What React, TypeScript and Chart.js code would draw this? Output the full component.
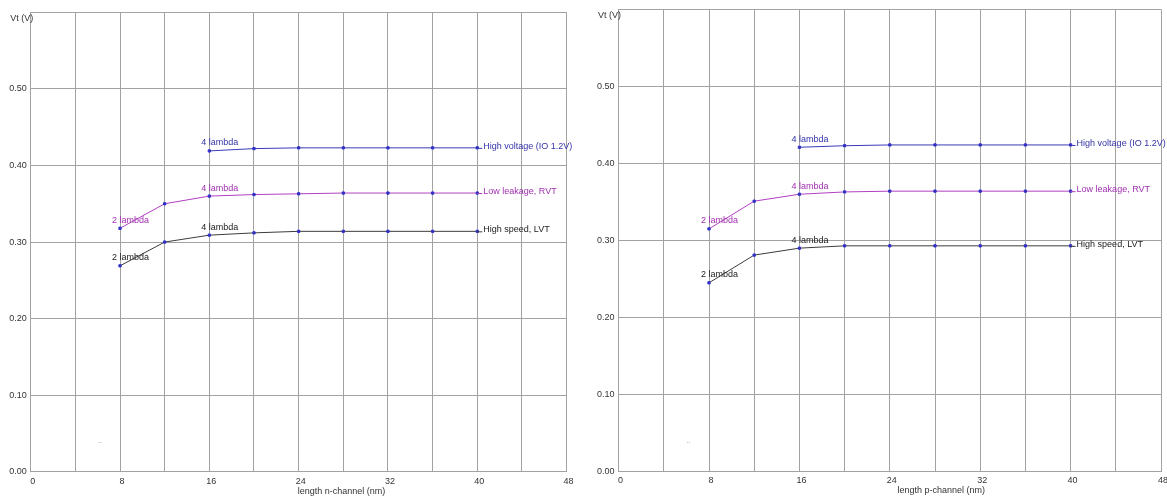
import React, { useEffect, useRef } from "react";
import { Chart, registerables } from "chart.js";
Chart.register(...registerables);

// ---- data ----
const lengths = [8, 12, 16, 20, 24, 28, 32, 36, 40];
const hvLengths = [16, 20, 24, 28, 32, 36, 40];

const nHighVoltage = [0.419, 0.422, 0.423, 0.423, 0.423, 0.423, 0.423];
const nLowLeakage = [0.318, 0.35, 0.36, 0.362, 0.363, 0.364, 0.364, 0.364, 0.364];
const nHighSpeed = [0.269, 0.3, 0.309, 0.312, 0.314, 0.314, 0.314, 0.314, 0.314];

const pHighVoltage = [0.421, 0.423, 0.424, 0.424, 0.424, 0.424, 0.424];
const pLowLeakage = [0.315, 0.351, 0.36, 0.363, 0.364, 0.364, 0.364, 0.364, 0.364];
const pHighSpeed = [0.245, 0.281, 0.29, 0.293, 0.293, 0.293, 0.293, 0.293, 0.293];

const seriesNames = ["High voltage (IO 1.2V)", "Low leakage, RVT", "High speed, LVT"];
const hvPointLabels = [{ i: 0, text: "4 lambda" }];
const rvtPointLabels = [{ i: 0, text: "2 lambda" }, { i: 2, text: "4 lambda" }];
const lvtPointLabels = [{ i: 0, text: "2 lambda" }, { i: 2, text: "4 lambda" }];

const xMin = 0;
const xMax = 48;
const xStep = 4;
const xLabelEvery = 8;
const yMin = 0;
const yMax = 0.6;
const yStep = 0.1;
const yTitle = "Vt (V)";
const nTitle = "length n-channel (nm)";
const pTitle = "length p-channel (nm)";

// ---- styles ----
const FONT = 'Arial, "Liberation Sans", sans-serif';
const GRID = "#a2a2a2";
const hvColor = "#3a3ab8";
const rvtColor = "#b040c0";
const lvtColor = "#3c3c3c";
const hvText = "#3333a8";
const rvtText = "#a030b0";
const lvtText = "#222222";
const markerColor = "#3030c8";

type Panel = {
  left: number;
  width: number;
  padTop: number;
  padRight: number;
  yWidth: number;
  xHeight: number;
  title: string;
  titleFrac: number;
  hv: number[];
  rvt: number[];
  lvt: number[];
};

const panels: Panel[] = [
  { left: 0, width: 590, padTop: 12.3, padRight: 23.4, yWidth: 30.7, xHeight: 25.2, title: nTitle, titleFrac: 0.58, hv: nHighVoltage, rvt: nLowLeakage, lvt: nHighSpeed },
  { left: 590, width: 600, padTop: 7.4, padRight: 29, yWidth: 28.6, xHeight: 25.5, title: pTitle, titleFrac: 0.595, hv: pHighVoltage, rvt: pLowLeakage, lvt: pHighSpeed },
];

const annotPlugin = {
  id: "annot",
  afterDatasetsDraw(chart: any) {
    const ctx = chart.ctx;
    const area = chart.chartArea;
    const opts = chart.options.plugins.annot;
    ctx.save();
    ctx.font = `9px ${FONT}`;
    ctx.textBaseline = "middle";
    chart.data.datasets.forEach((ds: any, di: number) => {
      const meta = chart.getDatasetMeta(di);
      const labels = ds._pointLabels || [];
      ctx.fillStyle = ds._textColor;
      ctx.textAlign = "left";
      labels.forEach((l: any) => {
        const pt = meta.data[l.i];
        ctx.fillText(l.text, pt.x - 8, pt.y - 8);
      });
      const last = meta.data[meta.data.length - 1];
      ctx.strokeStyle = ds.borderColor;
      ctx.lineWidth = 1;
      ctx.beginPath();
      ctx.moveTo(last.x, last.y + 0.5);
      ctx.lineTo(last.x + 5, last.y + 0.5);
      ctx.stroke();
      ctx.fillText(ds.label, last.x + 6, last.y - 1.5);
    });
    // axis titles
    ctx.fillStyle = "#333";
    ctx.textAlign = "right";
    ctx.fillText(opts.yTitle, area.left + 2.5, area.top + 6.5);
    ctx.textAlign = "center";
    ctx.fillText(opts.xTitle, area.left + (area.right - area.left) * opts.titleFrac, area.bottom + 19.5);
    // tiny dots
    ctx.fillStyle = "#888";
    ctx.font = `7px ${FONT}`;
    const xs = chart.scales.x;
    const ys = chart.scales.y;
    ctx.fillText("..", xs.getPixelForValue(6.2), ys.getPixelForValue(0.04));
    ctx.restore();
  },
};

function PanelChart({ p }: { p: Panel }) {
  const ref = useRef<HTMLCanvasElement>(null);
  useEffect(() => {
    const mk = (label: string, xs: number[], ys: number[], color: string, text: string, pl: any[]) => ({
      label,
      data: xs.map((x, i) => ({ x, y: ys[i] })),
      borderColor: color,
      backgroundColor: markerColor,
      borderWidth: 1,
      pointStyle: "rect",
      pointRadius: 1.6,
      pointBorderColor: markerColor,
      pointBackgroundColor: markerColor,
      pointBorderWidth: 1,
      tension: 0,
      _textColor: text,
      _pointLabels: pl,
    });
    const chart = new Chart(ref.current!, {
      type: "line",
      data: {
        datasets: [
          mk(seriesNames[0], hvLengths, p.hv, hvColor, hvText, hvPointLabels),
          mk(seriesNames[1], lengths, p.rvt, rvtColor, rvtText, rvtPointLabels),
          mk(seriesNames[2], lengths, p.lvt, lvtColor, lvtText, lvtPointLabels),
        ] as any,
      },
      options: {
        animation: false,
        responsive: false,
        devicePixelRatio: 1,
        layout: { padding: { left: 0, top: p.padTop, right: p.padRight, bottom: 0 } },
        plugins: {
          legend: { display: false },
          tooltip: { enabled: false },
          annot: { yTitle, xTitle: p.title, titleFrac: p.titleFrac },
        } as any,
        scales: {
          x: {
            type: "linear",
            min: xMin,
            max: xMax,
            afterFit: (s: any) => { s.height = p.xHeight; },
            grid: { color: GRID, lineWidth: 1, drawTicks: false },
            border: { display: true, color: GRID },
            ticks: {
              stepSize: xStep,
              autoSkip: false,
              maxRotation: 0,
              padding: 4,
              labelOffset: 2,
              color: "#333",
              font: { family: FONT, size: 9 },
              callback: (v: any) => (Number(v) % xLabelEvery === 0 ? String(v) : ""),
            },
          },
          y: {
            type: "linear",
            min: yMin,
            max: yMax,
            afterFit: (s: any) => { s.width = p.yWidth; },
            grid: { color: GRID, lineWidth: 1, drawTicks: false },
            border: { display: true, color: GRID },
            ticks: {
              stepSize: yStep,
              padding: 4,
              color: "#333",
              font: { family: FONT, size: 9 },
              callback: (v: any) => (Number(v) > yMax - 0.01 ? "" : Number(v).toFixed(2)),
            },
          },
        },
      } as any,
      plugins: [annotPlugin],
    });
    return () => chart.destroy();
  }, [p]);
  return (
    <canvas
      ref={ref}
      width={p.width}
      height={497}
      style={{ position: "absolute", left: p.left, top: 0, width: p.width, height: 497 }}
    />
  );
}

export default function App() {
  useEffect(() => {
    document.body.style.margin = "0";
  }, []);
  return (
    <div style={{ position: "relative", width: 1167, height: 497, background: "#fff", overflow: "hidden" }}>
      {panels.map((p, i) => (
        <PanelChart key={i} p={p} />
      ))}
    </div>
  );
}
